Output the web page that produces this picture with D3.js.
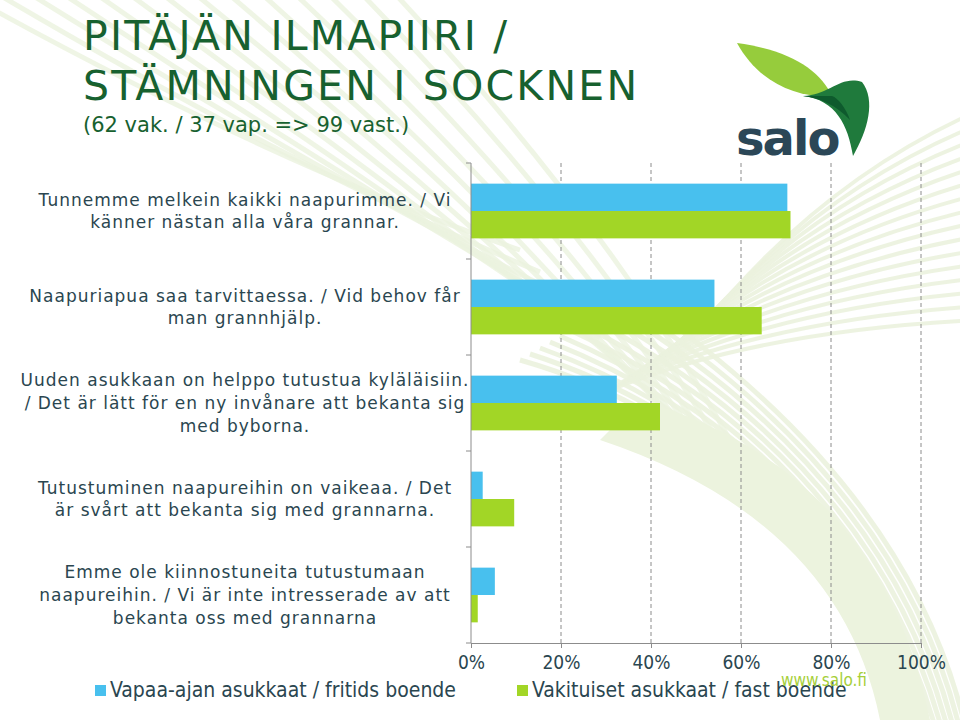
<!DOCTYPE html>
<html><head><meta charset="utf-8">
<script src="https://cdn.jsdelivr.net/npm/d3@7"></script>
<style>body{margin:0;background:#fff}svg{display:block}</style>
</head><body>
<svg id="c" width="960" height="720"></svg>
<script>
const categories = [
  ["Tunnemme melkein kaikki naapurimme. / Vi", "känner nästan alla våra grannar."],
  ["Naapuriapua saa tarvittaessa. / Vid behov får", "man grannhjälp."],
  ["Uuden asukkaan on helppo tutustua kyläläisiin.", "/ Det är lätt för en ny invånare att bekanta sig", "med byborna."],
  ["Tutustuminen naapureihin on vaikeaa.  / Det", "är svårt att bekanta sig med grannarna."],
  ["Emme ole kiinnostuneita tutustumaan", "naapureihin. / Vi är inte intresserade av att", "bekanta oss med grannarna"]
];
const seriesNames = ["Vapaa-ajan asukkaat / fritids boende", "Vakituiset asukkaat / fast boende"];
const vapaa = [70.3, 54.1, 32.4, 2.6, 5.3];
const vakituiset = [71.0, 64.6, 42.0, 9.6, 1.5];
const xTicks = [0, 20, 40, 60, 80, 100];
const titleLines = ["PITÄJÄN ILMAPIIRI /", "STÄMNINGEN I SOCKNEN"];
const subtitle = "(62 vak. / 37 vap. => 99 vast.)";

const svg = d3.select("#c");
const colors = ["#48c0ee", "#a2d626"];
const textCol = "#2a4650";

// decorative background swooshes
const bg = svg.append("g").attr("fill", "none").attr("stroke", "#ebf2de");
for (let i = 0; i < 14; i++) {
  bg.append("path").attr("stroke-width", 5).attr("opacity", 0.8)
    .attr("d", `M${-60 + i * 34},${-20} Q${260 + i * 30},${160 + i * 8} ${520 + i * 20},${250 + i * 22}`);
}
for (let i = 0; i < 16; i++) {
  bg.append("path").attr("stroke-width", 4).attr("opacity", 0.9)
    .attr("d", `M${700 - i * 6},${330 + i * 4} Q${820 - i * 4},${180 + i * 10} ${980},${110 + i * 14}`);
}
for (let i = 0; i < 12; i++) {
  bg.append("path").attr("stroke-width", 5).attr("opacity", 0.9)
    .attr("d", `M${520 + i * 10},${360 - i * 6} Q${800 + i * 10},${440 + i * 4} ${900 + i * 6},${730}`);
}
svg.append("path").attr("fill", "#ecf3de")
  .attr("d", "M600,440 Q840,520 880,720 L930,720 Q880,470 640,400 Z");

// Title
const t = svg.append("g").attr("fill", "#17612f").attr("font-family", "'DejaVu Sans',sans-serif");
t.selectAll("text.tl").data(titleLines).join("text").attr("class", "tl")
  .attr("x", 83).attr("y", (d, i) => 50 + i * 50).attr("font-size", 41).attr("letter-spacing", 2.2).text(d => d);
t.append("text").attr("x", 83).attr("y", 132).attr("font-size", 21).text(subtitle);

// Logo
const logo = svg.append("g");
logo.append("path").attr("fill", "#96cc3c")
  .attr("d", "M737,43 C790,50 820,70 832,96 C800,98 760,85 737,43 Z");
logo.append("path").attr("fill", "#1f7a3c")
  .attr("d", "M803,96 C830,95 840,75 862,82 C876,100 868,130 853,156 C848,125 836,100 803,96 Z");
logo.append("path").attr("fill", "#0e5a2d")
  .attr("d", "M803,96 C820,98 836,105 850,120 C846,108 838,98 832,96 Z");
logo.append("text").attr("x", 736).attr("y", 155).attr("fill", "#2b4757")
  .attr("font-family", "'DejaVu Sans',sans-serif").attr("font-weight", "bold").attr("font-size", 48)
  .attr("letter-spacing", -2).text("salo");

// Chart
const x = d3.scaleLinear().domain([0, 100]).range([471, 921]);
const y = d3.scaleBand().domain(d3.range(categories.length)).range([163, 643]).paddingInner(0.43).paddingOuter(0.215);
const ySub = d3.scaleBand().domain([0, 1]).range([0, y.bandwidth()]);

// gridlines
svg.append("g").selectAll("line").data(xTicks.slice(1)).join("line")
  .attr("x1", d => x(d)).attr("x2", d => x(d)).attr("y1", 163).attr("y2", 643)
  .attr("stroke", "#8c8c8c").attr("stroke-dasharray", "4,3").attr("stroke-width", 1);

// bars
const data = categories.map((c, i) => ({ i, vals: [vapaa[i], vakituiset[i]] }));
const gBars = svg.append("g");
data.forEach(d => {
  d.vals.forEach((v, s) => {
    gBars.append("rect").attr("x", x(0)).attr("y", y(d.i) + ySub(s))
      .attr("width", x(v) - x(0)).attr("height", ySub.bandwidth()).attr("fill", colors[s]);
  });
});

// axes
const xAxis = d3.axisBottom(x).tickValues(xTicks).tickFormat(d => d + "%").tickSize(5).tickPadding(8);
const gx = svg.append("g").attr("transform", "translate(0,643)").call(xAxis);
gx.select(".domain").attr("stroke", "#8c8c8c");
gx.selectAll(".tick line").attr("stroke", "#8c8c8c");
gx.selectAll("text").attr("font-family", "'DejaVu Sans Condensed','DejaVu Sans',sans-serif").attr("font-size", 19).attr("fill", textCol);

const yBounds = d3.range(categories.length + 1).map(i => 163 + i * y.step());
svg.append("line").attr("x1", 471).attr("x2", 471).attr("y1", 163).attr("y2", 643).attr("stroke", "#8c8c8c");
svg.append("g").selectAll("line").data(yBounds).join("line")
  .attr("x1", 466).attr("x2", 471).attr("y1", d => d).attr("y2", d => d).attr("stroke", "#8c8c8c");

// category labels
const lh = 22.7;
const gl = svg.append("g").attr("font-family", "'DejaVu Sans',sans-serif").attr("font-size", 17)
  .attr("letter-spacing", 1).attr("fill", textCol).attr("text-anchor", "middle");
categories.forEach((lines, i) => {
  const cy = y(i) + y.bandwidth() / 2;
  const first = cy + 6 - (lines.length - 1) * lh / 2;
  lines.forEach((ln, k) => {
    gl.append("text").attr("x", 245).attr("y", first + k * lh).text(ln);
  });
});

// legend
const legX = [95, 517];
const lg = svg.append("g").attr("font-family", "'DejaVu Sans Condensed','DejaVu Sans',sans-serif").attr("font-size", 21).attr("fill", textCol);
seriesNames.forEach((n, s) => {
  lg.append("rect").attr("x", legX[s]).attr("y", 685).attr("width", 11).attr("height", 11).attr("fill", colors[s]);
  lg.append("text").attr("x", legX[s] + 15).attr("y", 697).text(n);
});

// footer url
svg.append("text").attr("x", 781).attr("y", 686).attr("fill", "#a6cf3a")
  .attr("font-family", "'DejaVu Sans Condensed','DejaVu Sans',sans-serif").attr("font-size", 17).text("www.salo.fi");
</script>
</body></html>
